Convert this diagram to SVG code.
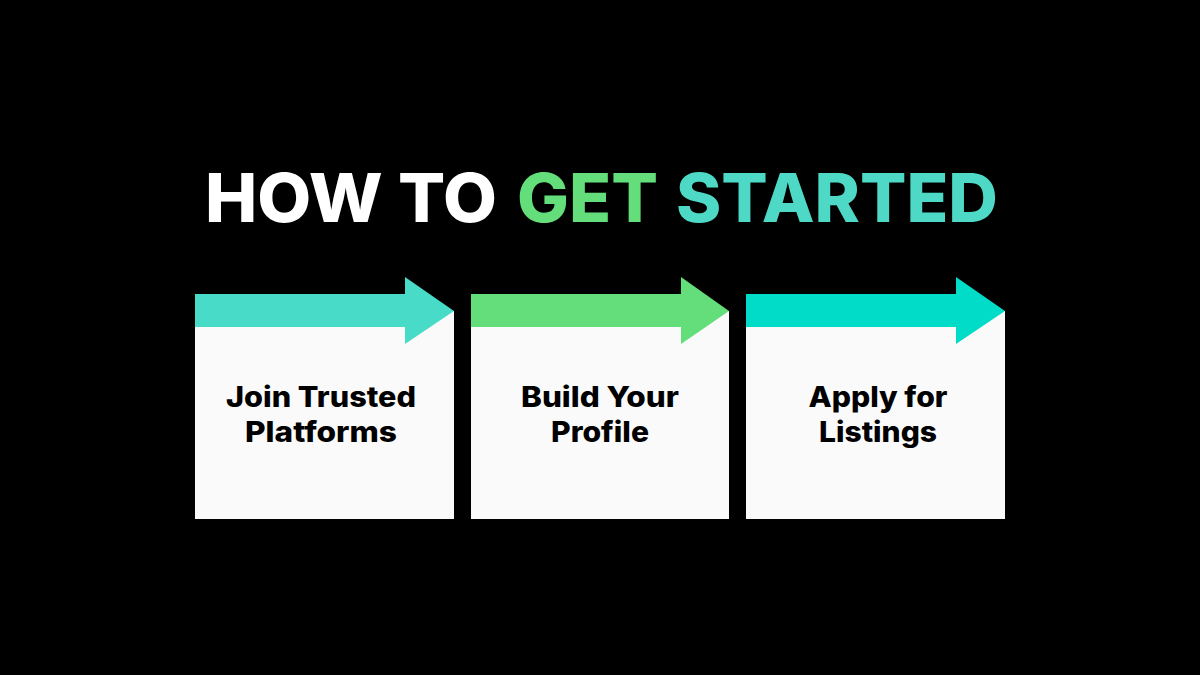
<svg xmlns="http://www.w3.org/2000/svg" width="1200" height="675" viewBox="0 0 1200 675">
<style>
.title{font-family:Inter,"Noto Sans","Liberation Sans",sans-serif;font-weight:800;font-size:68px}
.card{fill:#FAFAFA}
.lbl{font-family:Inter,"Noto Sans","Liberation Sans",sans-serif;font-weight:800;font-size:28px;fill:#000;text-anchor:middle}
</style>
<rect width="1200" height="675" fill="#000"/>
<g id="title">
<text class="title" x="205" y="222" fill="#FFFFFF" textLength="292" lengthAdjust="spacingAndGlyphs">HOW TO</text>
<text class="title" x="517" y="222" fill="#63DE7A" textLength="141" lengthAdjust="spacingAndGlyphs">GET</text>
<text class="title" x="676" y="222" fill="#4DD9C6" textLength="322" lengthAdjust="spacingAndGlyphs">STARTED</text>
</g>
<g id="step1">
<rect class="card" x="195" y="311" width="259" height="208"/>
<polygon fill="#48DBC8" points="195,294 405,294 405,277 454,311 405,344 405,327 195,327"/>
<text class="lbl" x="321" y="407" textLength="190" lengthAdjust="spacingAndGlyphs">Join Trusted</text>
<text class="lbl" x="321" y="442" textLength="152" lengthAdjust="spacingAndGlyphs">Platforms</text>
</g>
<g id="step2">
<rect class="card" x="471" y="311" width="258" height="208"/>
<polygon fill="#63DE7A" points="471,294 681,294 681,277 729,311 681,344 681,327 471,327"/>
<text class="lbl" x="600" y="407" textLength="158" lengthAdjust="spacingAndGlyphs">Build Your</text>
<text class="lbl" x="600" y="442" textLength="98" lengthAdjust="spacingAndGlyphs">Profile</text>
</g>
<g id="step3">
<rect class="card" x="746" y="311" width="259" height="208"/>
<polygon fill="#00DCC8" points="746,294 956,294 956,277 1005,311 956,344 956,327 746,327"/>
<text class="lbl" x="878" y="407" textLength="139" lengthAdjust="spacingAndGlyphs">Apply for</text>
<text class="lbl" x="878" y="442" textLength="118" lengthAdjust="spacingAndGlyphs">Listings</text>
</g>
<g id="connectors"></g>
</svg>
